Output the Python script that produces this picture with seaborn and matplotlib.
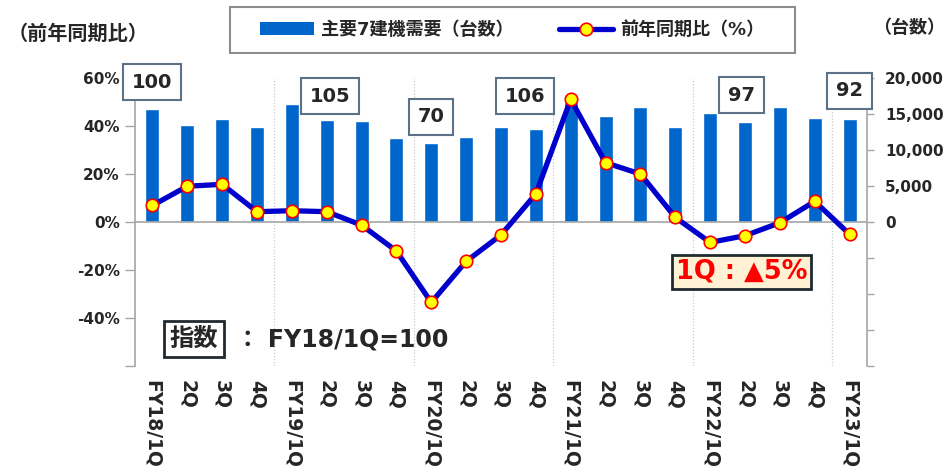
import numpy as np
import pandas as pd
import seaborn as sns
import matplotlib.pyplot as plt
from matplotlib.patches import Patch, Rectangle
from matplotlib.lines import Line2D

# data
quarters = ['FY18/1Q', '2Q', '3Q', '4Q',
            'FY19/1Q', '2Q', '3Q', '4Q',
            'FY20/1Q', '2Q', '3Q', '4Q',
            'FY21/1Q', '2Q', '3Q', '4Q',
            'FY22/1Q', '2Q', '3Q', '4Q',
            'FY23/1Q']
units = [15700, 13470, 14260, 13190,
         16430, 14120, 14030, 11630,
         10930, 11760, 13240, 12960,
         16640, 14720, 15970, 13240,
         15140, 13890, 15930, 14440,
         14350]
yoy = [6.9, 14.9, 15.7, 4.3,
       4.7, 4.3, -1.3, -12.1,
       -33.5, -16.4, -5.4, 11.7,
       51.1, 24.7, 20.0, 1.9,
       -8.5, -5.7, -0.3, 8.6,
       -5.1]
index_values = [100, 105, 70, 106, 97, 92]
# where each index box sits (x in category units, y in % of left axis)
index_spots = [(0, 58.3), (5.1, 52.5), (8.0, 43.8), (10.7, 52.5), (16.9, 52.9), (20.0, 54.6)]

bar_label = '主要7建機需要（台数）'
line_label = '前年同期比（%）'

df = pd.DataFrame({'pos': np.arange(len(quarters)), 'units': units, 'yoy': yoy})

sns.set_style('white')
plt.rcParams['font.family'] = ['DejaVu Sans', 'Noto Sans CJK JP']
plt.rcParams['font.weight'] = 'bold'
txt = '#262626'
grey = '#a6a6a6'
bar_col = '#0066cc'
line_col = '#0000cc'

fig = plt.figure(figsize=(9.46, 4.7), dpi=100)
ax_bar = fig.add_axes([135 / 946, 1 - 366 / 470, 732 / 946, 288 / 470])
ax_line = ax_bar.twinx()

# bars: units, right axis
sns.barplot(data=df, x='pos', y='units', color=bar_col, saturation=1, width=0.4, ax=ax_bar, zorder=2)
ax_bar.set_ylim(-20000, 20000)
ax_bar.set_xlim(-0.5, len(quarters) - 0.5)
ax_bar.yaxis.tick_right()
rticks = list(range(-20000, 20001, 5000))
ax_bar.set_yticks(rticks)
ax_bar.set_yticklabels([f'{t:,}' if t >= 0 else '' for t in rticks])
ax_bar.tick_params(axis='y', left=False, right=True, labelleft=False, labelright=True,
                   length=5, width=1, color=grey, pad=8, labelsize=11, labelcolor=txt)
ax_bar.set_xticks(df['pos'])
ax_bar.set_xticklabels(quarters, rotation=-90, va='top', ha='center')
ax_bar.tick_params(axis='x', length=0, pad=10, labelsize=13.5, labelcolor=txt)
ax_bar.set_xlabel('')
ax_bar.set_ylabel('')
for s in ['left', 'top', 'bottom']:
    ax_bar.spines[s].set_visible(False)
ax_bar.spines['right'].set_color(grey)
ax_bar.spines['right'].set_linewidth(1.2)

# dotted separators between fiscal years
for i, q in enumerate(quarters):
    if q.startswith('FY') and i > 0:
        ax_bar.axvline(i - 0.5, color='#c8c8c8', lw=0.9, ls=(0, (1, 1.5)), zorder=1)

# line: year-on-year %, left axis
ax_line.axhline(0, color=grey, lw=1.2, zorder=1)
sns.lineplot(data=df, x='pos', y='yoy', color=line_col, lw=3.8, marker='o', ms=9,
             markerfacecolor='#ffff00', markeredgecolor='#ff0000', markeredgewidth=1.2,
             ax=ax_line, zorder=3)
ax_line.set_ylim(-60, 60)
ax_line.yaxis.tick_left()
lticks = list(range(-60, 61, 20))
ax_line.set_yticks(lticks)
ax_line.set_yticklabels([f'{t}%' if t > -60 else '' for t in lticks])
ax_line.tick_params(axis='y', left=True, right=False, length=7, width=1, color=grey, pad=4,
                    labelsize=11, labelcolor=txt, labelleft=True, labelright=False)
ax_line.set_xlabel('')
ax_line.set_ylabel('')
for s in ['right', 'top', 'bottom']:
    ax_line.spines[s].set_visible(False)
ax_line.spines['left'].set_visible(True)
ax_line.spines['left'].set_color(grey)
ax_line.spines['left'].set_linewidth(1.2)

# index boxes
for val, (x, y) in zip(index_values, index_spots):
    ax_line.text(x, y, str(val), ha='center', va='center', fontsize=14, color=txt, zorder=5,
                 clip_on=False,
                 bbox=dict(boxstyle='square,pad=0.45', fc='white', ec='#5b7188', lw=1.5))

# latest quarter callout
ax_line.text(16.9, -20.8, '1Q : ▲5%', ha='center', va='center', fontsize=18.5, color='#ff0000',
             zorder=5, bbox=dict(boxstyle='square,pad=0.15', fc='#fff2d4', ec='#1f2a30', lw=2))

# axis captions
fig.text(8 / 946, 1 - 34 / 470, '（前年同期比）', ha='left', va='center', fontsize=14.5, color=txt)
fig.text(945 / 946, 1 - 28 / 470, '（台数）', ha='right', va='center', fontsize=13, color=txt)

# index note
fig.text(194 / 946, 1 - 339 / 470, '指数', ha='center', va='center', fontsize=17.5, color=txt,
         bbox=dict(boxstyle='square,pad=0.25', fc='white', ec='#1f2a30', lw=2))
fig.text(236 / 946, 1 - 340 / 470, '： FY18/1Q=100', ha='left', va='center', fontsize=17, color=txt)

# legend
fig.patches.append(Rectangle((230 / 946, 1 - 53 / 470), 565 / 946, 46 / 470,
                             transform=fig.transFigure, fill=False, ec='#8c8c8c', lw=1.5))
handles = [Patch(facecolor=bar_col, edgecolor='none'),
           Line2D([], [], color=line_col, lw=3.8, marker='o', ms=9,
                  markerfacecolor='#ffff00', markeredgecolor='#ff0000', markeredgewidth=1.2)]
fig.legend(handles, [bar_label, line_label], loc='center', bbox_to_anchor=(512 / 946, 1 - 30 / 470),
           ncol=2, frameon=False, fontsize=13, handlelength=3.0, handletextpad=0.4,
           columnspacing=2.5, labelcolor=txt)

fig.savefig('out.png', dpi=100)
